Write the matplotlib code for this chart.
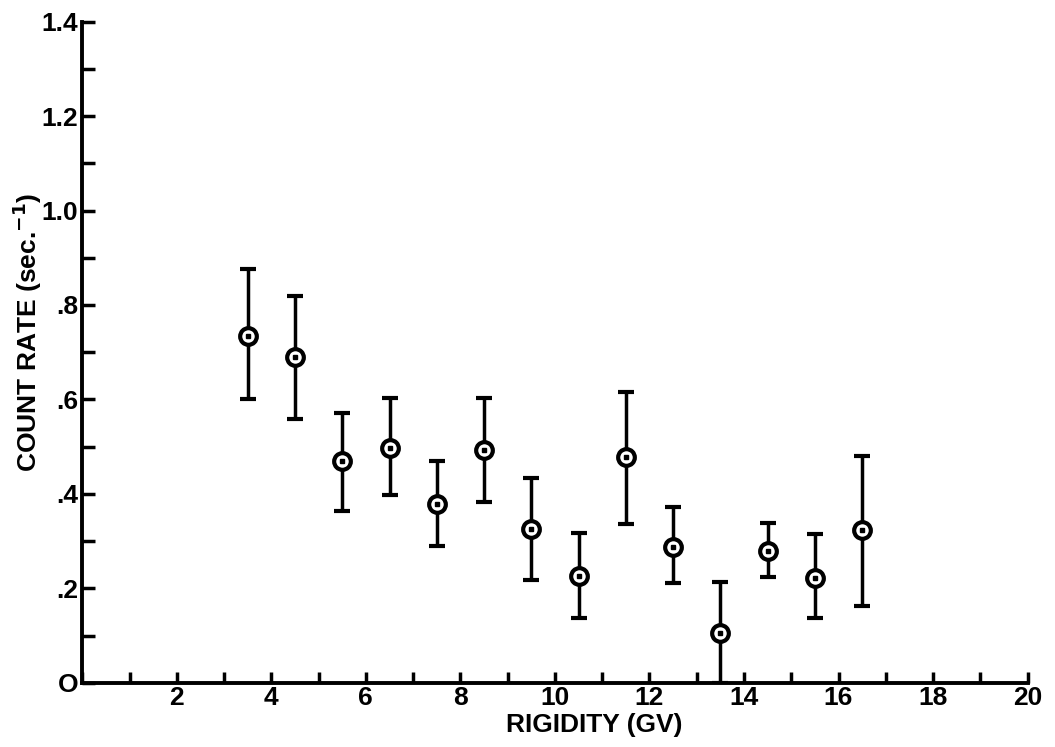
import matplotlib
matplotlib.use("Agg")
import matplotlib.pyplot as plt
import numpy as np

rigidity = [3.5, 4.5, 5.5, 6.5, 7.5, 8.5, 9.5, 10.5, 11.5, 12.5, 13.5, 14.5, 15.5, 16.5]
count_rate = [0.735, 0.689, 0.470, 0.498, 0.379, 0.492, 0.326, 0.227, 0.479, 0.288, 0.106, 0.280, 0.222, 0.324]
err_low = [0.600, 0.559, 0.364, 0.398, 0.290, 0.383, 0.218, 0.138, 0.337, 0.212, 0.0, 0.225, 0.138, 0.163]
err_high = [0.877, 0.818, 0.572, 0.602, 0.470, 0.604, 0.434, 0.318, 0.616, 0.373, 0.214, 0.339, 0.316, 0.481]

x_ticks = list(range(0, 21))
x_labels = ["" if (v % 2 or v == 0) else str(v) for v in x_ticks]
y_ticks = [0, 0.2, 0.4, 0.6, 0.8, 1.0, 1.2, 1.4]
y_labels = ["O", ".2", ".4", ".6", ".8", "1.0", "1.2", "1.4"]
y_minor = [0.1, 0.3, 0.5, 0.7, 0.9, 1.1, 1.3]

plt.rcParams['font.family'] = ['Liberation Sans', 'DejaVu Sans']

fig = plt.figure(figsize=(10.55, 7.47), dpi=100)
ax = fig.add_axes([0.078, 0.086, 0.896, 0.885])

y = np.array(count_rate)
lo = y - np.array(err_low)
hi = np.array(err_high) - y
ax.errorbar(rigidity, y, yerr=[lo, hi], fmt='none', ecolor='black',
            elinewidth=2.5, capsize=6, capthick=3, zorder=2)
ax.plot(rigidity, y, linestyle='none', marker='o', markersize=12,
        markerfacecolor='white', markeredgecolor='black', markeredgewidth=3, zorder=3)
ax.plot(rigidity, y, linestyle='none', marker='s', markersize=2.5,
        markerfacecolor='black', markeredgecolor='black', zorder=4)

ax.set_xlim(0, 20)
ax.set_ylim(0, 1.4)
ax.set_xticks(x_ticks)
ax.set_xticklabels(x_labels)
ax.set_yticks(y_ticks)
ax.set_yticklabels(y_labels)
ax.set_yticks(y_minor, minor=True)

for s in ['top', 'right']:
    ax.spines[s].set_visible(False)
for s in ['left', 'bottom']:
    ax.spines[s].set_linewidth(2.8)

ax.tick_params(axis='x', direction='in', length=8, width=2.5, labelsize=19, pad=2)
ax.tick_params(axis='y', which='major', direction='in', length=9, width=2.5, labelsize=19, pad=3)
ax.tick_params(axis='y', which='minor', direction='in', length=9, width=2.5)
for lab in ax.get_xticklabels() + ax.get_yticklabels():
    lab.set_fontweight('bold')

ax.set_xlabel('RIGIDITY (GV)', fontsize=19, fontweight='bold')
ax.xaxis.set_label_coords(0.542, -0.045)
ax.set_ylabel('COUNT RATE (sec.$^{\\mathbf{-1}}$)', fontsize=19, fontweight='bold')
ax.yaxis.set_label_coords(-0.040, 0.53)

fig.savefig('out.png', dpi=100)
